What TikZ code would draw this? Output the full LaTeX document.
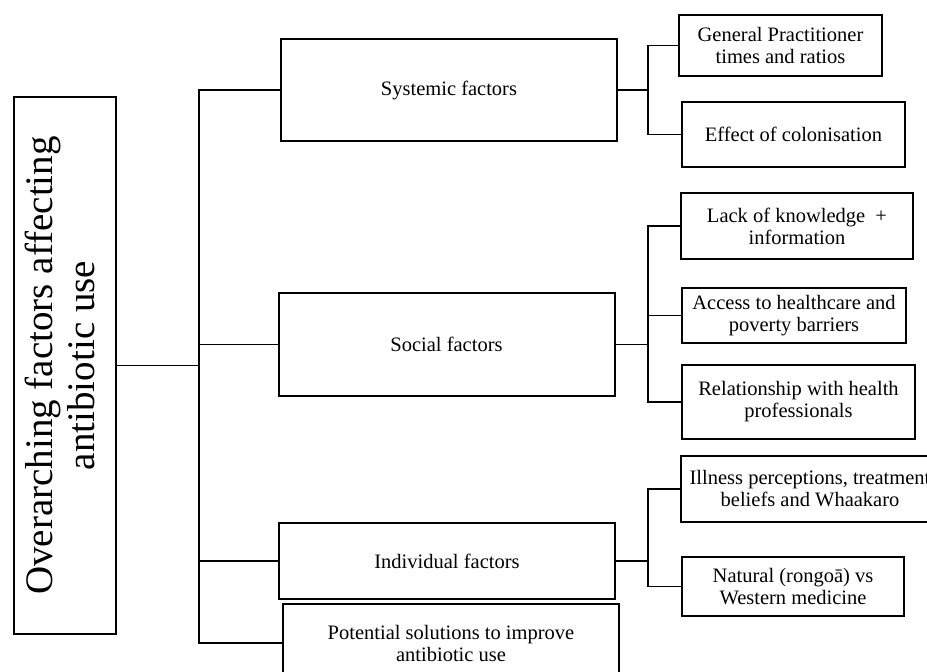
\documentclass[tikz,border=0pt]{standalone}
\usepackage{fontspec}
\setmainfont{Liberation Serif}
\usepackage{tikz}

\begin{document}
\begin{tikzpicture}[x=1pt,y=-1pt,
  rootbox/.style={draw,line width=1.5pt,inner sep=0pt,font=\fontsize{39}{42}\selectfont},
  mainbox/.style={draw,line width=2pt,inner sep=0pt,align=center,minimum width=336pt,font=\fontsize{20.5}{22}\selectfont},
  subbox/.style={draw,line width=2pt,inner sep=0pt,align=center,font=\fontsize{20.5}{22}\selectfont},
  link/.style={line width=1.3pt}]
  \useasboundingbox (0,0) rectangle (927,672);

  \node[rootbox,minimum width=102pt,minimum height=537pt] (root) at (65,365.5)
    {\rotatebox{90}{\begin{tabular}{@{}c@{}}Overarching factors affecting\\antibiotic use\end{tabular}}};

  \node[mainbox,minimum height=102pt] (sys) at (449,90) {Systemic factors};
  \node[mainbox,minimum height=103pt] (soc) at (446.5,344.5) {Social factors};
  \node[mainbox,minimum height=76pt]  (ind) at (447,561) {Individual factors};
  \node[mainbox,minimum height=78pt]  (pot) at (451,643) {Potential solutions to improve\\antibiotic use};

  \node[subbox,minimum width=203pt,minimum height=61pt] (gp)     at (780.5,45.5) {General Practitioner\\times and ratios};
  \node[subbox,minimum width=223pt,minimum height=65pt] (col)    at (793.5,134.5) {Effect of colonisation};
  \node[subbox,minimum width=232pt,minimum height=66pt] (know)   at (797,226) {Lack of knowledge~ +\\information};
  \node[subbox,minimum width=224pt,minimum height=55pt] (access) at (794,315.5) {Access to healthcare and\\poverty barriers};
  \node[subbox,minimum width=233pt,minimum height=74pt] (prof)   at (798.5,402) {Relationship with health\\professionals};
  \node[subbox,minimum width=258pt,minimum height=66pt] (ill)    at (810,489) {Illness perceptions, treatment\\beliefs and Whaakaro};
  \node[subbox,minimum width=222pt,minimum height=59pt] (nat)    at (793,586.5) {Natural (rongoā) vs\\Western medicine};

  \coordinate (trunk) at (199,365.5);
  \coordinate (spine) at (648,0);

  \draw[link] (root.east) -- (trunk);
  \foreach \n in {sys,soc,ind,pot}
    \draw[link] (trunk) |- (\n.west);

  \draw[link] (sys.east) -- (sys.east -| spine) |- (gp.west);
  \draw[link] (sys.east -| spine) |- (col.west);
  \draw[link] (soc.east) -- (soc.east -| spine) |- (know.west);
  \draw[link] (soc.east -| spine) |- (access.west);
  \draw[link] (soc.east -| spine) |- (prof.west);
  \draw[link] (ind.east) -- (ind.east -| spine) |- (ill.west);
  \draw[link] (ind.east -| spine) |- (nat.west);
\end{tikzpicture}
\end{document}
